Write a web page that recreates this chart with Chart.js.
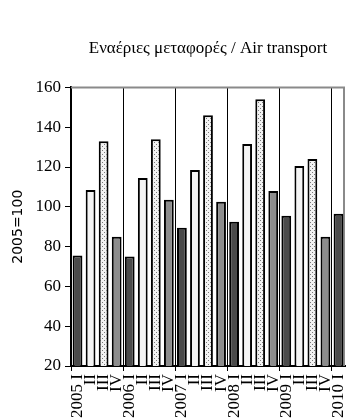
<!DOCTYPE html>
<html>
<head>
<meta charset="utf-8">
<script src="https://cdn.jsdelivr.net/npm/chart.js@4/dist/chart.umd.min.js"></script>
<style>
html, body { margin: 0; padding: 0; background: #fff; overflow: hidden; }
</style>
</head>
<body>
<canvas id="airChart" width="347" height="419"></canvas>
<script>
// Τρίμηνα 2005 I - 2010 I
const periodos = ['2005 I', 'II', 'III', 'IV', '2006 I', 'II', 'III', 'IV',
    '2007 I', 'II', 'III', 'IV', '2008 I', 'II', 'III', 'IV',
    '2009 I', 'II', 'III', 'IV', '2010 I'];
// Δείκτης 2005=100
const indice = [75.5, 108.5, 133, 85, 75, 114.5, 134, 103.5,
    89.5, 118.5, 146, 102.5, 92.5, 131.5, 154, 108,
    95.5, 120.5, 124, 85, 96.5];
const eixoY = [20, 40, 60, 80, 100, 120, 140, 160];

// padrão pontilhado para o 3º trimestre
function pontilhado() {
    const c = document.createElement('canvas');
    c.width = 4; c.height = 4;
    const g = c.getContext('2d');
    g.fillStyle = '#f2f2f2';
    g.fillRect(0, 0, 4, 4);
    g.fillStyle = '#7a7a7a';
    g.fillRect(0, 0, 1, 1);
    g.fillRect(2, 2, 1, 1);
    return g.createPattern(c, 'repeat');
}

const CORES = ['#4b4b4b', '#f4f4f4', pontilhado(), '#8c8c8c'];

const moldura = {
    id: 'moldura',
    beforeDatasetsDraw(chart) {
        const { ctx, chartArea: a } = chart;
        ctx.save();
        ctx.strokeStyle = '#8a8a8a';
        ctx.lineWidth = 2;
        ctx.beginPath();
        ctx.moveTo(a.left, a.top);
        ctx.lineTo(a.right - 1, a.top);
        ctx.lineTo(a.right - 1, a.bottom);
        ctx.stroke();
        ctx.restore();
    }
};

const ctx = document.getElementById('airChart').getContext('2d');
new Chart(ctx, {
    type: 'bar',
    data: {
        labels: periodos,
        datasets: [{
            data: indice,
            backgroundColor: indice.map((v, i) => CORES[i % 4]),
            borderColor: '#000',
            borderWidth: 2,
            barPercentage: 0.75,
            categoryPercentage: 1
        }]
    },
    options: {
        responsive: false,
        animation: false,
        layout: { padding: { left: 10, right: 2, top: 0, bottom: 0 } },
        plugins: {
            legend: { display: false },
            tooltip: { enabled: false },
            title: {
                display: true,
                text: 'Εναέριες μεταφορές / Air transport',
                fullSize: false,
                color: '#000',
                font: { family: 'Liberation Serif', size: 17, weight: 'normal' },
                padding: { top: 38, bottom: 29 }
            }
        },
        scales: {
            x: {
                grid: {
                    offset: true,
                    color: c => c.index % 4 === 0 ? '#000' : 'rgba(0,0,0,0)',
                    tickColor: c => c.index % 4 === 0 ? '#000' : 'rgba(0,0,0,0)',
                    lineWidth: 1,
                    tickLength: 5
                },
                border: { display: true, color: '#000', width: 2 },
                ticks: {
                    autoSkip: false,
                    maxRotation: 90,
                    minRotation: 90,
                    padding: 3,
                    color: '#000',
                    font: { family: 'Liberation Serif', size: 17 }
                },
                afterFit: function(scale) {
                    scale.height = 53;
                    scale.paddingLeft = 0;
                    scale.paddingRight = 0;
                }
            },
            y: {
                min: 20,
                max: 160,
                afterBuildTicks: function(scale) {
                    scale.ticks = eixoY.map(v => ({ value: v }));
                },
                grid: {
                    drawOnChartArea: false,
                    color: '#000',
                    tickLength: 6
                },
                border: { display: true, color: '#000', width: 2 },
                ticks: {
                    padding: 4,
                    color: '#000',
                    font: { family: 'Liberation Serif', size: 17 }
                },
                title: {
                    display: true,
                    text: '2005=100',
                    color: '#000',
                    font: { family: 'DejaVu Sans', size: 14 },
                    padding: { top: 0, bottom: 0 }
                },
                afterFit: function(scale) { scale.width = 61; }
            }
        }
    },
    plugins: [moldura]
});
</script>
</body>
</html>
